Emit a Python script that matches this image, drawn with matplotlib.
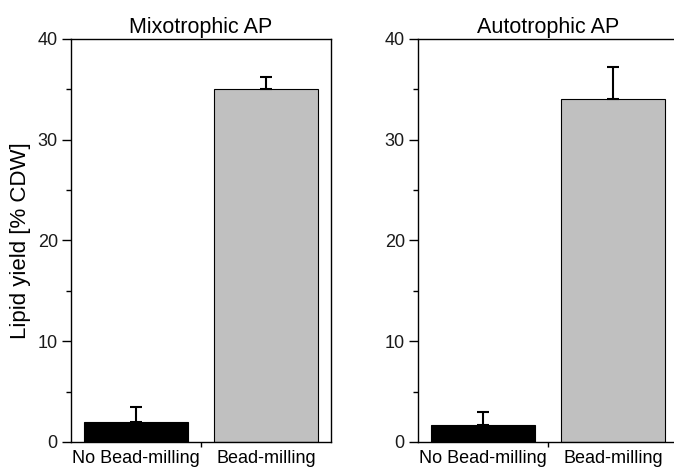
import matplotlib
matplotlib.use("Agg")
import matplotlib.pyplot as plt
from matplotlib.ticker import MultipleLocator, FixedLocator

plt.rcParams['font.family'] = ['Liberation Sans', 'DejaVu Sans']

# === Data ===
categories = ["No Bead-milling", "Bead-milling"]
panel_titles = ["Mixotrophic AP", "Autotrophic AP"]
mixo_yield = [1.95, 35.0]
mixo_err = [1.5, 1.25]
auto_yield = [1.7, 34.0]
auto_err = [1.25, 3.2]
bar_colors = ["#000000", "#c0c0c0"]

W, H = 674, 468
fig = plt.figure(figsize=(W / 100, H / 100), dpi=100)

# axes boxes in pixels: (left, bottom-from-top, width, height)
boxes = [(71, 442, 260, 403), (418, 442, 260, 403)]
panels = [(mixo_yield, mixo_err), (auto_yield, auto_err)]

for i, ((vals, errs), (px, pb, pw, ph)) in enumerate(zip(panels, boxes)):
    ax = fig.add_axes([px / W, (H - pb) / H, pw / W, ph / H])
    pos = [1, 2]
    ax.bar(pos, vals, width=0.8, color=bar_colors, edgecolor="black", linewidth=0.8, zorder=2)
    ax.errorbar(pos, vals, yerr=[[0, 0], errs], fmt="none", ecolor="black",
                elinewidth=1.5, capsize=4.2, capthick=1.5, zorder=3)
    ax.set_xlim(0.5, 2.5)
    ax.set_ylim(0, 40)

    ax.yaxis.set_major_locator(MultipleLocator(10))
    ax.yaxis.set_minor_locator(MultipleLocator(5))
    ax.set_xticks(pos)
    ax.set_xticklabels(categories, fontsize=13)
    ax.xaxis.set_minor_locator(FixedLocator([1.5]))
    ax.tick_params(axis="x", which="major", length=0, pad=6)
    ax.tick_params(axis="x", which="minor", direction="out", length=3.5, width=1)
    ax.tick_params(axis="y", which="major", direction="out", length=6.5, width=1,
                   labelsize=13, pad=3, labelcolor="#1a1a1a")
    ax.tick_params(axis="y", which="minor", direction="out", length=3.5, width=1)
    ax.tick_params(top=False, right=False, which="both")
    for s in ax.spines.values():
        s.set_linewidth(1.0)

    ax.set_title(panel_titles[i], fontsize=15.5, pad=4)
    if i == 0:
        ax.set_ylabel("Lipid yield [% CDW]", fontsize=16, labelpad=5)

fig.savefig("out.png", dpi=100)
